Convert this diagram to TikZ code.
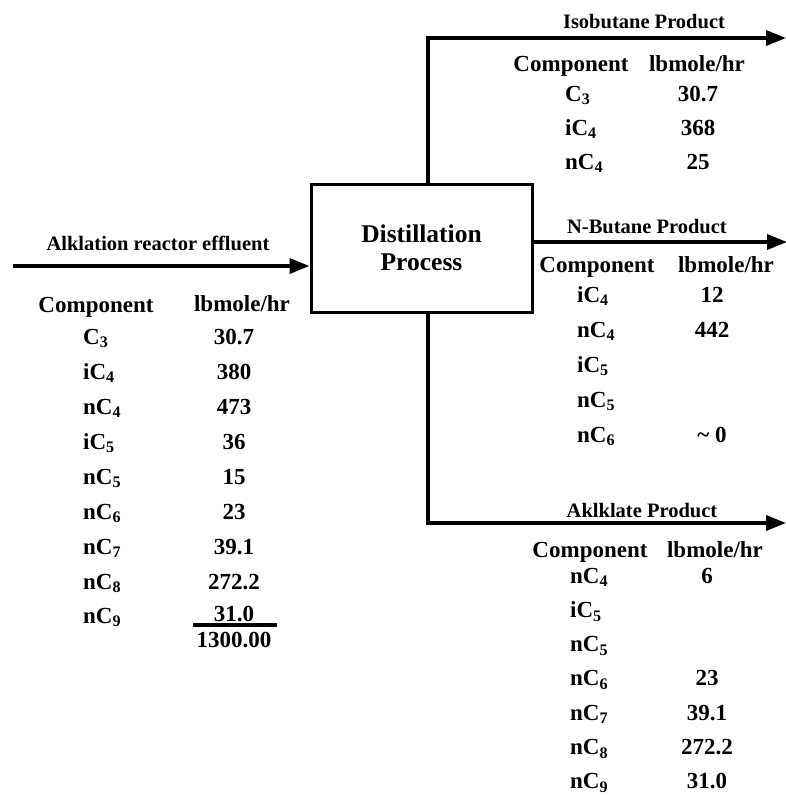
\documentclass[tikz,border=0pt]{standalone}
\usepackage{fontspec}
\setmainfont{Liberation Serif}
\usetikzlibrary{arrows.meta}
\begin{document}
\begin{tikzpicture}[x=1pt,y=-1pt,
  flow/.style={line width=3.6pt,-{Triangle[length=20pt,width=15pt]}},
  unitbox/.style={draw,line width=3pt,minimum width=221pt,minimum height=128pt,
    inner sep=0pt,align=center,font=\fontsize{25.5}{30}\selectfont\bfseries},
  tab/.style={font=\fontsize{23}{27}\selectfont\bfseries,inner sep=0pt},
  lbl/.style={font=\fontsize{20.5}{24}\selectfont\bfseries,inner sep=0pt,anchor=base},
  cname/.style={tab,anchor=base west},
  cval/.style={tab,anchor=base},
  total/.style={line width=3.5pt}]
\useasboundingbox (0,0) rectangle (786,796);

% process unit
\node[unitbox] (dist) at (421.5,248) {Distillation\\[-2pt]Process};

% streams
\coordinate (feed) at (13,266);
\coordinate (topbend) at (428,38);
\coordinate (topend) at (786,38);
\coordinate (midend) at (787,242);
\coordinate (botbend) at (428,523);
\coordinate (botend) at (786,523);
\draw[flow] (feed) -- (feed -| dist.west);
\draw[flow] (dist.north -| topbend) -- (topbend) -- (topend);
\draw[flow] (dist.east |- midend) -- (midend);
\draw[flow] (dist.south -| botbend) -- (botbend) -- (botend);

% stream labels
\node[lbl] (feedlbl) at (158,250) {Alklation reactor effluent};
\node[lbl] (isolbl) at (644,28) {Isobutane Product};
\node[lbl] (nbulbl) at (647,233) {N-Butane Product};
\node[lbl] (alklbl) at (642,517) {Aklklate Product};

% feed composition
\node[cval] (fhc) at (96,312) {Component};
\node[cval] (fhu) at (242,311) {lbmole/hr};
\foreach \p/\s/\v [count=\i] in {{}/3/30.7,i/4/380,n/4/473,i/5/36,n/5/15,n/6/23,n/7/39.1,n/8/272.2}{
  \node[cname] (fn\i) at (83,{344+35*(\i-1)}) {\p C\textsubscript{\s}};
  \node[cval] (fv\i) at (234,{344+35*(\i-1)}) {\v};
}
\node[cname] (fn9) at (83,623) {nC\textsubscript{9}};
\node[cval] (fv9) at (234,621) {31.0};
\coordinate (rulel) at (193,625);
\coordinate (ruler) at (277,625);
\draw[total] (rulel) -- (ruler);
\node[cval] (ftot) at (234,647) {1300.00};

% isobutane product composition
\node[cval] (ihc) at (571,71) {Component};
\node[cval] (ihu) at (697,71) {lbmole/hr};
\foreach \p/\s/\v [count=\i] in {{}/3/30.7,i/4/368,n/4/25}{
  \node[cname] (in\i) at (565,{101+34*(\i-1)}) {\p C\textsubscript{\s}};
  \node[cval] (iv\i) at (698,{101+34*(\i-1)}) {\v};
}

% n-butane product composition
\node[cval] (nhc) at (597,272) {Component};
\node[cval] (nhu) at (726,272) {lbmole/hr};
\foreach \p/\s [count=\i] in {i/4,n/4,i/5,n/5,n/6}{
  \node[cname] (nn\i) at (577,{302+35*(\i-1)}) {\p C\textsubscript{\s}};
}
\node[cval] (nv1) at (712,302) {12};
\node[cval] (nv2) at (712,337) {442};
\node[cval] (nv5) at (712,442) {\textasciitilde\ 0};

% alkylate product composition
\node[cval] (ahc) at (590,557) {Component};
\node[cval] (ahu) at (715,557) {lbmole/hr};
\foreach \p/\s [count=\i] in {n/4,i/5,n/5,n/6,n/7,n/8,n/9}{
  \node[cname] (an\i) at (570,{583+34.3*(\i-1)}) {\p C\textsubscript{\s}};
}
\node[cval] (av1) at (707,583) {6};
\node[cval] (av4) at (707,685.9) {23};
\node[cval] (av5) at (707,720.2) {39.1};
\node[cval] (av6) at (707,754.5) {272.2};
\node[cval] (av7) at (707,788.8) {31.0};
\end{tikzpicture}
\end{document}
